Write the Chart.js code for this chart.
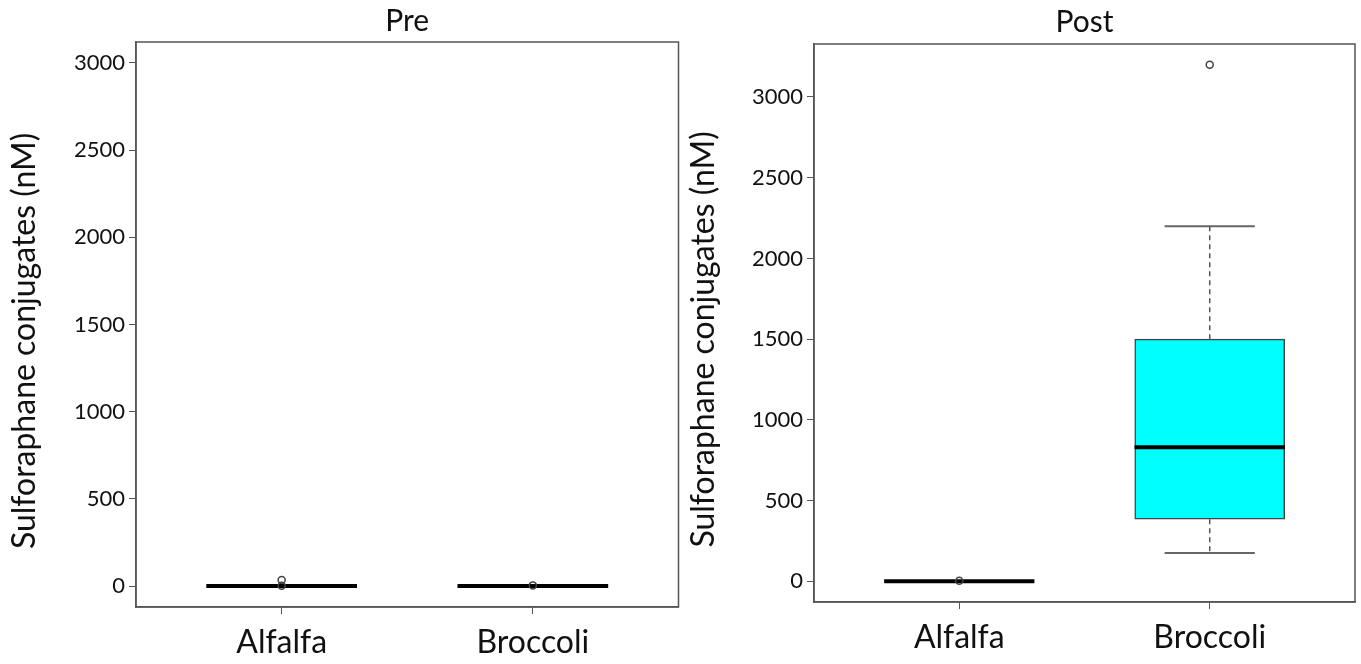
<!DOCTYPE html>
<html>
<head>
<meta charset="utf-8">
<title>Sulforaphane conjugates</title>
<script src="https://cdn.jsdelivr.net/npm/chart.js@4.4.1/dist/chart.umd.min.js"></script>
<style>
  body { margin: 0; background: #fff; }
  canvas { position: absolute; top: 0; }
  #pre { left: 0; }
  #post { left: 684px; }
</style>
</head>
<body>
<canvas id="pre" width="684" height="664"></canvas>
<canvas id="post" width="677" height="664"></canvas>
<script>
const groups = ['Alfalfa', 'Broccoli'];
const yTicks = [0, 500, 1000, 1500, 2000, 2500, 3000];

// Pre: everything sits at ~0
const preLow = [0, 0];
const preQ1 = [0, 0];
const preMedian = [0, 0];
const preQ3 = [0, 0];
const preHigh = [0, 0];
const preOutliers = [[2, 35], [4]];

// Post
const postLow = [0, 175];
const postQ1 = [0, 385];
const postMedian = [0, 830];
const postQ3 = [0, 1500];
const postHigh = [0, 2200];
const postOutliers = [[4], [3200]];

const FONT = 'Lato, "Open Sans", sans-serif';
const BOX_HALF = 0.3;
const CAP_HALF = 0.18;

function seg(points, color, width, dash, order) {
  return {
    type: 'line',
    data: points,
    borderColor: color,
    borderWidth: width,
    borderDash: dash || [],
    pointRadius: 0,
    fill: false,
    tension: 0,
    order: order
  };
}

function boxDatasets(low, q1, median, q3, high, outliers) {
  const sets = [];
  sets.push({
    type: 'bar',
    data: groups.map((g, i) => ({ x: i + 1, y: q3[i] > q1[i] ? [q1[i], q3[i]] : null })),
    backgroundColor: '#00ffff',
    borderColor: '#444',
    borderWidth: 1.5,
    borderSkipped: false,
    barThickness: 150,
    grouped: false,
    order: 5
  });
  groups.forEach((g, i) => {
    const x = i + 1;
    if (high[i] > q3[i]) {
      sets.push(seg([{ x: x, y: q3[i] }, { x: x, y: high[i] }], '#555', 1.5, [5, 4], 2));
      sets.push(seg([{ x: x - CAP_HALF, y: high[i] }, { x: x + CAP_HALF, y: high[i] }], '#666', 2, null, 2));
    }
    if (low[i] < q1[i]) {
      sets.push(seg([{ x: x, y: q1[i] }, { x: x, y: low[i] }], '#555', 1.5, [5, 4], 2));
      sets.push(seg([{ x: x - CAP_HALF, y: low[i] }, { x: x + CAP_HALF, y: low[i] }], '#666', 2, null, 2));
    }
    sets.push(seg([{ x: x - BOX_HALF, y: median[i] }, { x: x + BOX_HALF, y: median[i] }], '#000', 4, null, 1));
  });
  sets.push({
    type: 'line',
    data: outliers.flatMap((vals, i) => vals.map(v => ({ x: i + 1, y: v }))),
    showLine: false,
    pointRadius: 3.5,
    pointBorderWidth: 1.5,
    pointBorderColor: '#444',
    pointBackgroundColor: 'rgba(0,0,0,0)',
    order: 0
  });
  return sets;
}

const frame = {
  id: 'frame',
  afterDraw(chart) {
    const { ctx, chartArea: a } = chart;
    ctx.save();
    ctx.strokeStyle = '#555';
    ctx.lineWidth = 1.5;
    ctx.strokeRect(a.left, a.top, a.right - a.left, a.bottom - a.top);
    ctx.restore();
  }
};

function makeChart(id, title, yMin, yMax, datasets, p) {
  return new Chart(document.getElementById(id), {
    type: 'line',
    data: { datasets: datasets },
    options: {
      responsive: false,
      animation: false,
      layout: { padding: { left: 0, right: p.right, top: 0, bottom: 0 } },
      plugins: {
        legend: { display: false },
        tooltip: { enabled: false },
        title: {
          display: true,
          text: title,
          fullSize: false,
          color: '#111',
          font: { family: FONT, size: 30, weight: 'normal', lineHeight: 1.2 },
          padding: { top: p.titleTop, bottom: p.titleBottom }
        }
      },
      scales: {
        x: {
          type: 'linear',
          min: 0.42,
          max: 2.58,
          offset: false,
          afterBuildTicks: s => { s.ticks = groups.map((g, i) => ({ value: i + 1 })); },
          afterFit: s => { s.height = p.xHeight; },
          ticks: {
            color: '#111',
            font: { family: FONT, size: 32 },
            padding: 9,
            maxRotation: 0,
            callback: v => groups[v - 1]
          },
          grid: { offset: false, drawOnChartArea: false, drawTicks: true, tickLength: 7, color: '#555' },
          border: { color: '#555', width: 1.5 }
        },
        y: {
          type: 'linear',
          min: yMin,
          max: yMax,
          afterBuildTicks: s => { s.ticks = yTicks.map(v => ({ value: v })); },
          afterFit: s => { s.width = p.yWidth; },
          ticks: {
            color: '#111',
            font: { family: FONT, size: 22 },
            padding: 4,
            callback: v => String(v)
          },
          grid: { drawOnChartArea: false, drawTicks: true, tickLength: 7, color: '#555' },
          border: { color: '#555', width: 1.5 },
          title: {
            display: true,
            // trailing spaces nudge the rotated label down like the original
            text: 'Sulforaphane conjugates (nM)    ',
            color: '#111',
            font: { family: FONT, size: 32, lineHeight: 1.2 },
            padding: { top: p.yTitlePad, bottom: 0 }
          }
        }
      }
    },
    plugins: [frame]
  });
}

makeChart('pre', 'Pre', -120, 3120,
  boxDatasets(preLow, preQ1, preMedian, preQ3, preHigh, preOutliers),
  { right: 4, titleTop: 3, titleBottom: 3, xHeight: 57, yWidth: 136, yTitlePad: 5 });

makeChart('post', 'Post', -128, 3328,
  boxDatasets(postLow, postQ1, postMedian, postQ3, postHigh, postOutliers),
  { right: 6, titleTop: 4, titleBottom: 4, xHeight: 62, yWidth: 130, yTitlePad: 0 });
</script>
</body>
</html>
